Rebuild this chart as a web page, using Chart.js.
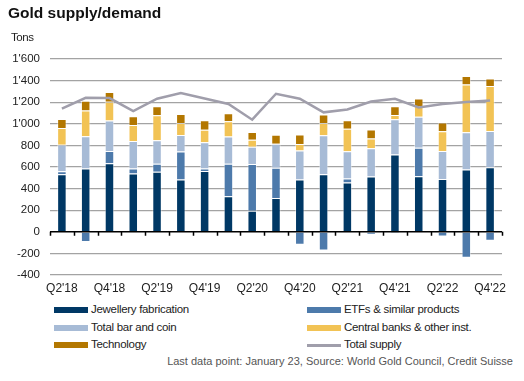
<!DOCTYPE html>
<html>
<head>
<meta charset="utf-8">
<script src="https://cdn.jsdelivr.net/npm/chart.js@4"></script>
<style>
  body { margin: 0; background: #fff; font-family: "Liberation Sans", Arial, sans-serif; }
  #wrap { position: relative; width: 524px; height: 381px; overflow: hidden; }
  #title { position: absolute; left: 8px; top: 4px; font-size: 15.5px; font-weight: bold; color: #111; }
  #unit { position: absolute; left: 11px; top: 31px; font-size: 11.5px; color: #222; letter-spacing: -0.4px; }
  #goldChart { position: absolute; left: 0; top: 0; }
  .leg { position: absolute; font-size: 11.5px; color: #222; letter-spacing: -0.3px; line-height: 14px; }
  .sw { position: absolute; width: 34px; height: 6px; }
  #source { position: absolute; right: 11px; top: 355px; font-size: 11px; color: #555; }
</style>
</head>
<body>
<div id="wrap">
  <canvas id="goldChart" width="524" height="300"></canvas>
  <div id="title">Gold supply/demand</div>
  <div id="unit">Tons</div>
  <div id="legend"></div>
  <div id="source">Last data point: January 23, Source: World Gold Council, Credit Suisse</div>
</div>
<script>
// dados (toneladas por trimestre)
const quarters = ["Q2'18", "Q3'18", "Q4'18", "Q1'19", "Q2'19", "Q3'19", "Q4'19", "Q1'20", "Q2'20", "Q3'20",
                  "Q4'20", "Q1'21", "Q2'21", "Q3'21", "Q4'21", "Q1'22", "Q2'22", "Q3'22", "Q4'22"];
const jewellery    = [533, 585, 635, 539, 555, 484, 564, 330, 194, 314, 484, 533, 456, 511, 715, 514, 490, 576, 598];
const etfs         = [28, -95, 114, 46, 74, 259, 22, 299, 434, 280, -120, -173, 37, -28, -18, 265, -43, -240, -83];
const barCoin      = [246, 299, 282, 256, 219, 154, 243, 253, 160, 222, 268, 360, 253, 262, 327, 286, 259, 345, 336];
const centralBanks = [154, 240, 173, 148, 231, 111, 117, 142, 65, -12, 62, 114, 209, 92, 40, 99, 182, 443, 415];
const technology   = [83, 89, 90, 80, 83, 83, 86, 74, 71, 83, 86, 80, 77, 83, 80, 71, 80, 78, 71];
const totalSupply  = [1140, 1241, 1238, 1118, 1232, 1284, 1235, 1183, 1038, 1278, 1232, 1106, 1133, 1207, 1232, 1152, 1183, 1201, 1216];
const yTicks = [-400, -200, 0, 200, 400, 600, 800, 1000, 1200, 1400, 1600];

const colors = {
    jewellery: '#003865',
    etfs: '#4d7aab',
    barCoin: '#a7bbd6',
    centralBanks: '#f2c355',
    technology: '#b37700',
    supply: '#a09eab'
};

// 1'600 style
function fmtTick(v) {
    if (Math.abs(v) >= 1000) {
        const s = String(Math.abs(v));
        return (v < 0 ? '-' : '') + s.slice(0, s.length - 3) + "'" + s.slice(-3);
    }
    return String(v);
}

const barSet = (label, data, color) => ({
    type: 'bar', label, data,
    backgroundColor: color,
    borderColor: 'rgba(255,255,255,0.45)',
    borderWidth: 1,
    stack: 'demand',
    order: 2,
    barPercentage: 0.5,
    categoryPercentage: 0.8
});

// eixo zero preto + marcas entre categorias
const zeroAxis = {
    id: 'zeroAxis',
    afterDatasetsDraw(chart) {
        const { ctx, chartArea, scales: { x, y } } = chart;
        const y0 = y.getPixelForValue(0);
        const half = (x.getPixelForValue(1) - x.getPixelForValue(0)) / 2;
        ctx.save();
        ctx.strokeStyle = '#000';
        ctx.lineWidth = 1.5;
        ctx.beginPath();
        ctx.moveTo(chartArea.left, y0);
        ctx.lineTo(chartArea.right, y0);
        for (let i = 0; i <= quarters.length; i++) {
            const px = Math.round(x.getPixelForValue(i) - half) + 0.5;
            ctx.moveTo(px, y0);
            ctx.lineTo(px, y0 + 4);
        }
        ctx.stroke();
        ctx.restore();
    }
};

new Chart(document.getElementById('goldChart'), {
    data: {
        labels: quarters,
        datasets: [
            { type: 'line', label: 'Total supply', data: totalSupply, borderColor: colors.supply,
              borderWidth: 2.5, pointRadius: 0, tension: 0, stack: 'supply', order: 0 },
            barSet('Jewellery fabrication', jewellery, colors.jewellery),
            barSet('ETFs & similar products', etfs, colors.etfs),
            barSet('Total bar and coin', barCoin, colors.barCoin),
            barSet('Central banks & other inst.', centralBanks, colors.centralBanks),
            barSet('Technology', technology, colors.technology)
        ]
    },
    options: {
        responsive: false,
        animation: false,
        devicePixelRatio: 1,
        layout: { padding: { left: 12, right: 22, top: 59, bottom: 0 } },
        plugins: { legend: { display: false }, tooltip: { enabled: false } },
        scales: {
            x: {
                stacked: true,
                grid: { display: false, drawTicks: false },
                border: { display: false },
                afterFit: axis => { axis.height = 25; },
                ticks: {
                    autoSkip: false, maxRotation: 0, padding: 6, color: '#222',
                    font: { family: 'Liberation Sans', size: 12 },
                    callback: (v, i) => (i % 2 === 0 ? quarters[i] : '')
                }
            },
            y: {
                stacked: true,
                min: yTicks[0], max: yTicks[yTicks.length - 1],
                afterBuildTicks: axis => { axis.ticks = yTicks.map(v => ({ value: v })); },
                afterFit: axis => { axis.width = 38; },
                border: { display: false },
                grid: {
                    drawTicks: false,
                    color: ctx => (ctx.tick && ctx.tick.value === 0 ? 'rgba(0,0,0,0)' : '#a3a3a3'),
                    lineWidth: 1.2
                },
                ticks: {
                    padding: 10, color: '#222',
                    font: { family: 'Liberation Sans', size: 11.5 },
                    callback: v => fmtTick(v)
                }
            }
        }
    },
    plugins: [zeroAxis]
});

// legenda em html, duas colunas
const legendItems = [
    { text: 'Jewellery fabrication', color: colors.jewellery, col: 0, row: 0 },
    { text: 'ETFs & similar products', color: colors.etfs, col: 1, row: 0 },
    { text: 'Total bar and coin', color: colors.barCoin, col: 0, row: 1 },
    { text: 'Central banks & other inst.', color: colors.centralBanks, col: 1, row: 1 },
    { text: 'Technology', color: colors.technology, col: 0, row: 2 },
    { text: 'Total supply', color: colors.supply, col: 1, row: 2, line: true }
];
const legend = document.getElementById('legend');
legendItems.forEach(it => {
    const x = it.col === 0 ? 54 : 307;
    const yc = 310 + it.row * 17.5;
    const sw = document.createElement('div');
    sw.className = 'sw';
    sw.style.left = x + 'px';
    sw.style.top = (it.line ? yc - 1 : yc - 3) + 'px';
    sw.style.height = it.line ? '2.5px' : '6px';
    sw.style.background = it.color;
    legend.appendChild(sw);
    const t = document.createElement('div');
    t.className = 'leg';
    t.style.left = (x + 37) + 'px';
    t.style.top = (yc - 8) + 'px';
    t.textContent = it.text;
    legend.appendChild(t);
});
</script>
</body>
</html>
